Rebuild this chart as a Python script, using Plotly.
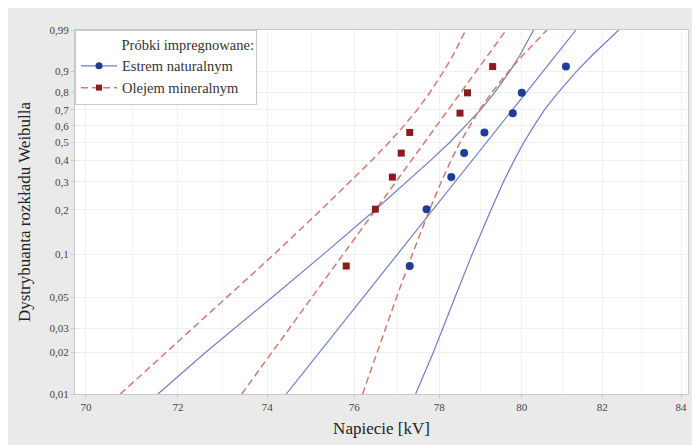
import numpy as np
import plotly.graph_objects as go

# ---- data ----
F_levels = [0.01, 0.02, 0.05, 0.1, 0.2, 0.3, 0.4, 0.5, 0.6, 0.7, 0.8, 0.9, 0.95, 0.99]

estrem_lower = [71.56, 72.61, 74.11, 75.28, 76.49, 77.23, 77.79, 78.25, 78.64, 79.00, 79.34, 79.71, 79.95, 80.29]
estrem_upper = [77.44, 77.86, 78.38, 78.79, 79.25, 79.55, 79.81, 80.05, 80.30, 80.56, 80.90, 81.36, 81.74, 82.41]
olej_lower = [70.74, 71.74, 73.10, 74.15, 75.23, 75.90, 76.40, 76.81, 77.16, 77.48, 77.78, 78.11, 78.33, 78.64]
olej_upper = [76.19, 76.53, 76.99, 77.36, 77.77, 78.05, 78.28, 78.50, 78.73, 78.97, 79.27, 79.68, 80.02, 80.62]

fit_F = [0.01, 0.99]
estrem_fit = [74.43, 81.34]
olej_fit = [73.42, 79.62]

rank_F = [0.083, 0.202, 0.321, 0.440, 0.560, 0.679, 0.798, 0.917]
estrem_pts = [77.30, 77.70, 78.29, 78.60, 79.09, 79.78, 80.00, 81.09]
olej_pts = [75.81, 76.49, 76.89, 77.10, 77.30, 78.50, 78.68, 79.29]

y_ticks = [0.01, 0.02, 0.03, 0.05, 0.1, 0.2, 0.3, 0.4, 0.5, 0.6, 0.7, 0.8, 0.9, 0.99]
y_ticktext = ["0,01", "0,02", "0,03", "0,05", "0,1", "0,2", "0,3", "0,4", "0,5", "0,6", "0,7", "0,8", "0,9", "0,99"]
x_ticks = [70, 72, 74, 76, 78, 80, 82, 84]
x_minor = [71, 73, 75, 77, 79, 81, 83]


def weib(F):
    F = np.asarray(F, dtype=float)
    return np.log(-np.log(1.0 - F))


BLUE_LINE = "#6f7ec2"
BLUE_PT = "#1f3c98"
RED_LINE = "#d27a70"
RED_PT = "#8e1b1b"
SERIF = "Liberation Serif, Times New Roman, serif"

fig = go.Figure()

# confidence bounds and fitted lines
for xs, ys in [(estrem_lower, F_levels), (estrem_upper, F_levels), (estrem_fit, fit_F)]:
    fig.add_trace(go.Scatter(x=xs, y=weib(ys), mode="lines",
                             line=dict(color=BLUE_LINE, width=1.2),
                             showlegend=False, hoverinfo="skip"))
for xs, ys in [(olej_lower, F_levels), (olej_upper, F_levels), (olej_fit, fit_F)]:
    fig.add_trace(go.Scatter(x=xs, y=weib(ys), mode="lines",
                             line=dict(color=RED_LINE, width=1.5, dash="7px,4px"),
                             showlegend=False, hoverinfo="skip"))

# points
fig.add_trace(go.Scatter(x=estrem_pts, y=weib(rank_F), mode="markers",
                         marker=dict(color=BLUE_PT, size=8, symbol="circle"),
                         showlegend=False))
fig.add_trace(go.Scatter(x=olej_pts, y=weib(rank_F), mode="markers",
                         marker=dict(color=RED_PT, size=7, symbol="square"),
                         showlegend=False))

# legend entries
fig.add_trace(go.Scatter(x=[None], y=[None], mode="lines+markers", name="Estrem naturalnym",
                         line=dict(color=BLUE_LINE, width=1.2),
                         marker=dict(color=BLUE_PT, size=7, symbol="circle")))
fig.add_trace(go.Scatter(x=[None], y=[None], mode="lines+markers", name="Olejem mineralnym",
                         line=dict(color=RED_LINE, width=1.5, dash="7px,4px"),
                         marker=dict(color=RED_PT, size=6, symbol="square")))

fig.update_layout(
    width=692, height=437,
    margin=dict(l=67, r=11, t=22, b=47),
    paper_bgcolor="#eaeaea",
    plot_bgcolor="#ffffff",
    font=dict(family=SERIF, color="#333333"),
    legend=dict(
        x=0, y=1, xanchor="left", yanchor="top",
        bgcolor="#ffffff", bordercolor="#c8c8c8", borderwidth=1,
        font=dict(family=SERIF, size=14.5, color="#333333"),
        itemwidth=36,
        title=dict(text="\u00a0" * 12 + "Próbki impregnowane:", side="top",
                   font=dict(family=SERIF, size=14.5, color="#333333")),
        tracegroupgap=0,
    ),
)

fig.update_xaxes(
    type="log",
    range=[np.log10(69.765), np.log10(84.18)],
    tickvals=x_ticks, ticktext=[str(v) for v in x_ticks],
    tickfont=dict(family=SERIF, size=11, color="#444444"),
    ticks="outside", ticklen=3, tickcolor="#c8c8c8",
    showgrid=True, gridcolor="#f0f0f0", gridwidth=1,
    minor=dict(tickvals=x_minor, showgrid=True, gridcolor="#f3f3f3", ticks=""),
    showline=True, linecolor="#c8c8c8", linewidth=1, mirror=True,
    zeroline=False,
    title=dict(text="Napiecie [kV]", font=dict(family=SERIF, size=17, color="#222222"), standoff=9),
)
fig.update_yaxes(
    range=[float(weib(0.01)), float(weib(0.99))],
    tickvals=list(weib(y_ticks)), ticktext=y_ticktext,
    tickfont=dict(family=SERIF, size=11, color="#444444"),
    ticks="outside", ticklen=3, tickcolor="#c8c8c8",
    showgrid=True, gridcolor="#f0f0f0", gridwidth=1,
    showline=True, linecolor="#c8c8c8", linewidth=1, mirror=True,
    zeroline=False,
    title=dict(text="Dystrybuanta rozkładu Weibulla", font=dict(family=SERIF, size=17, color="#222222"), standoff=14),
)

fig.write_html("out.html")
